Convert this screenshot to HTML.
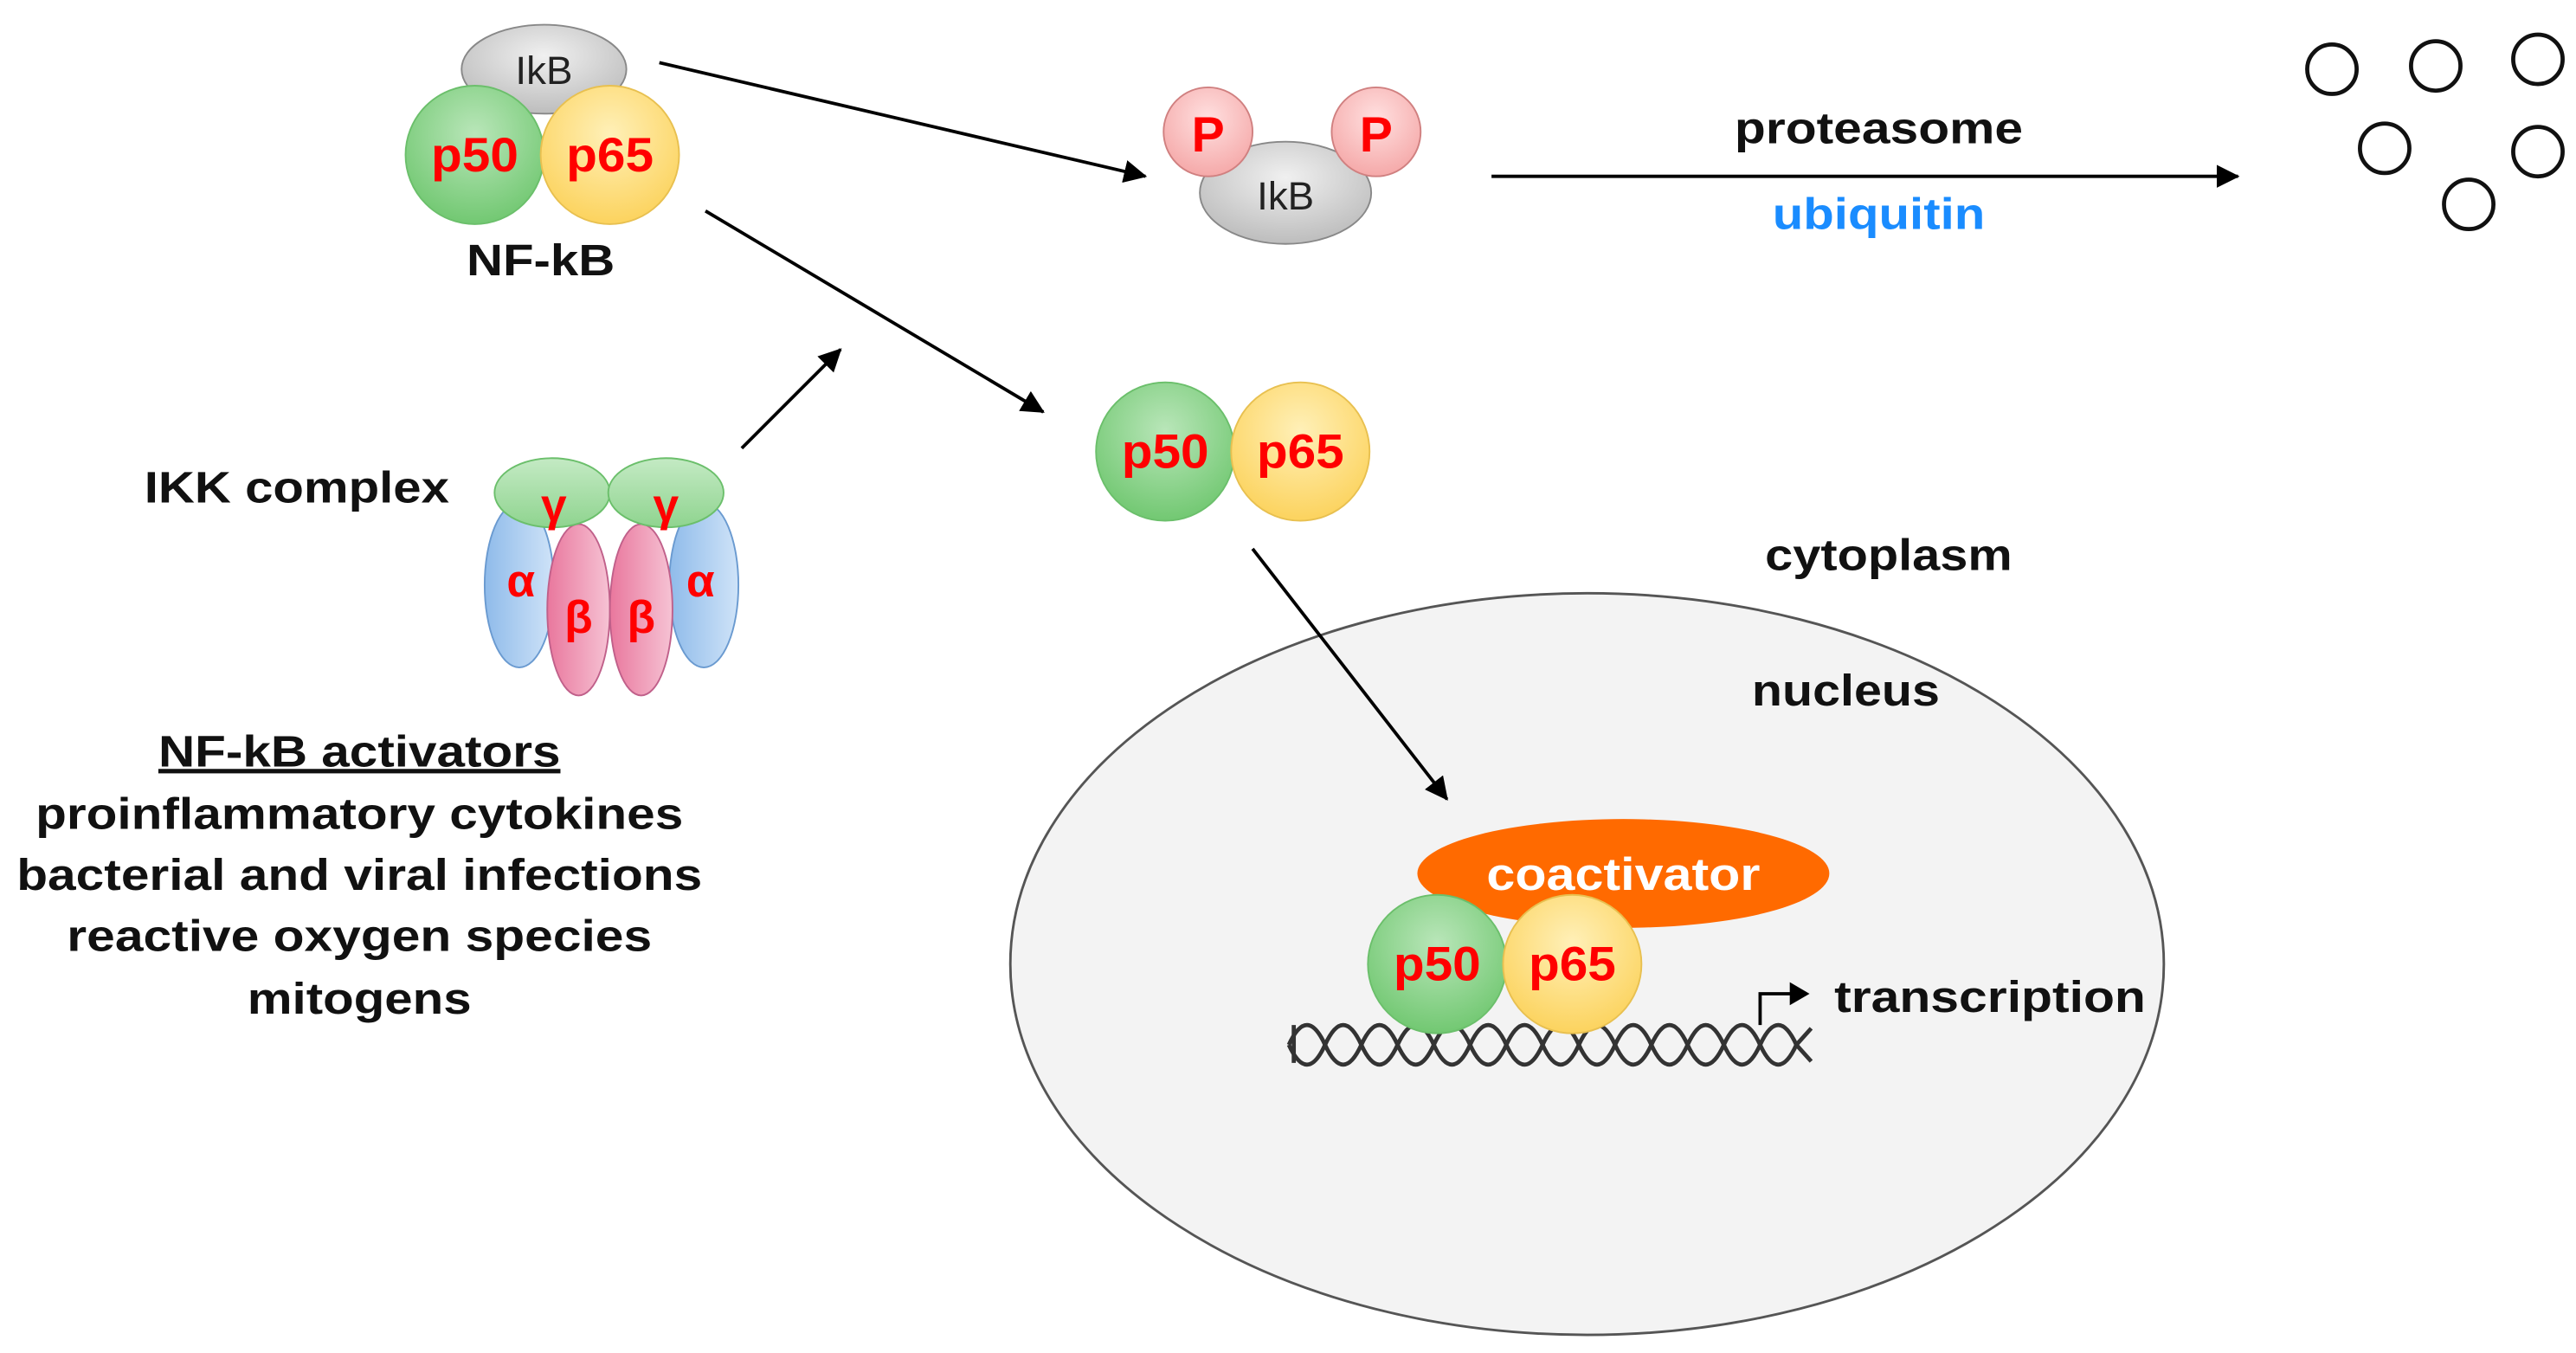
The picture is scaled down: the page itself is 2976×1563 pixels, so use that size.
<!DOCTYPE html>
<html><head><style>
html,body{margin:0;padding:0;background:#fff;}
svg{display:block;}
text{font-family:"Liberation Sans",Arial,sans-serif;font-weight:bold;}
</style></head><body>
<svg width="2976" height="1563" viewBox="0 0 1563 821" xmlns="http://www.w3.org/2000/svg">
<defs>
<radialGradient id="gr" cx="50%" cy="35%" r="65%"><stop offset="0" stop-color="#b9e6b9"/><stop offset="1" stop-color="#72c872"/></radialGradient>
<radialGradient id="ye" cx="50%" cy="35%" r="65%"><stop offset="0" stop-color="#fff0b8"/><stop offset="1" stop-color="#fcd35e"/></radialGradient>
<radialGradient id="gy" cx="50%" cy="35%" r="65%"><stop offset="0" stop-color="#f0f0f0"/><stop offset="1" stop-color="#bdbdbd"/></radialGradient>
<radialGradient id="pk" cx="50%" cy="35%" r="65%"><stop offset="0" stop-color="#ffe0e0"/><stop offset="1" stop-color="#f5a9a9"/></radialGradient>
<linearGradient id="bl" x1="0" x2="1"><stop offset="0" stop-color="#8fbbea"/><stop offset="1" stop-color="#cfe3f8"/></linearGradient>
<linearGradient id="be" x1="0" x2="1"><stop offset="0" stop-color="#e9779d"/><stop offset="1" stop-color="#f6c3d4"/></linearGradient>
<linearGradient id="ga" x1="0" y1="0" x2="0" y2="1"><stop offset="0" stop-color="#c4eac4"/><stop offset="1" stop-color="#8fd48f"/></linearGradient>
<marker id="ah2" markerWidth="14" markerHeight="14" refX="13" refY="7" orient="auto" markerUnits="userSpaceOnUse"><path d="M0,0 L14,7 L0,14 Z" fill="#000"/></marker>
</defs>

<ellipse cx="963" cy="585" rx="350" ry="225" fill="#f3f3f3" stroke="#555" stroke-width="1.5"/>

<g stroke="#000" stroke-width="2" fill="none">
<line x1="400" y1="38" x2="695" y2="107" marker-end="url(#ah2)"/>
<line x1="905" y1="107" x2="1358" y2="107" marker-end="url(#ah2)"/>
<line x1="428" y1="128" x2="633" y2="250" marker-end="url(#ah2)"/>
<line x1="450" y1="272" x2="510" y2="212" marker-end="url(#ah2)"/>
<line x1="760" y1="333" x2="878" y2="485" marker-end="url(#ah2)"/>
</g>

<ellipse cx="330" cy="42" rx="50" ry="27" fill="url(#gy)" stroke="#888" stroke-width="1"/>
<text x="330" y="51" font-size="24" text-anchor="middle" fill="#222" style="font-weight:normal">IkB</text>
<circle cx="288" cy="94" r="42" fill="url(#gr)" stroke="#6bbf6b"/>
<circle cx="370" cy="94" r="42" fill="url(#ye)" stroke="#e8c050"/>
<text x="288" y="104" font-size="29" text-anchor="middle" fill="#f00" textLength="53" lengthAdjust="spacingAndGlyphs">p50</text>
<text x="370" y="104" font-size="29" text-anchor="middle" fill="#f00" textLength="53" lengthAdjust="spacingAndGlyphs">p65</text>
<text x="328" y="167" font-size="27" text-anchor="middle" fill="#111" textLength="90" lengthAdjust="spacingAndGlyphs">NF-kB</text>

<ellipse cx="780" cy="117" rx="52" ry="31" fill="url(#gy)" stroke="#888"/>
<circle cx="733" cy="80" r="27" fill="url(#pk)" stroke="#d08080"/>
<circle cx="835" cy="80" r="27" fill="url(#pk)" stroke="#d08080"/>
<text x="733" y="92" font-size="30" text-anchor="middle" fill="#f00">P</text>
<text x="835" y="92" font-size="30" text-anchor="middle" fill="#f00">P</text>
<text x="780" y="127" font-size="24" text-anchor="middle" fill="#222" style="font-weight:normal">IkB</text>

<text x="1140" y="87" font-size="27" text-anchor="middle" fill="#111" textLength="175" lengthAdjust="spacingAndGlyphs">proteasome</text>
<text x="1140" y="139" font-size="27" text-anchor="middle" fill="#1a8cff" textLength="129" lengthAdjust="spacingAndGlyphs">ubiquitin</text>

<g fill="#fff" stroke="#111" stroke-width="2.5">
<circle cx="1415" cy="42" r="15"/><circle cx="1478" cy="40" r="15"/><circle cx="1540" cy="36" r="15"/>
<circle cx="1447" cy="90" r="15"/><circle cx="1540" cy="92" r="15"/><circle cx="1498" cy="124" r="15"/>
</g>

<circle cx="707" cy="274" r="42" fill="url(#gr)" stroke="#6bbf6b"/>
<circle cx="789" cy="274" r="42" fill="url(#ye)" stroke="#e8c050"/>
<text x="707" y="284" font-size="29" text-anchor="middle" fill="#f00" textLength="53" lengthAdjust="spacingAndGlyphs">p50</text>
<text x="789" y="284" font-size="29" text-anchor="middle" fill="#f00" textLength="53" lengthAdjust="spacingAndGlyphs">p65</text>

<text x="180" y="305" font-size="27" text-anchor="middle" fill="#111" textLength="185" lengthAdjust="spacingAndGlyphs">IKK complex</text>
<ellipse cx="315" cy="355" rx="21" ry="50" fill="url(#bl)" stroke="#6a9ad0"/>
<ellipse cx="427" cy="355" rx="21" ry="50" fill="url(#bl)" stroke="#6a9ad0"/>
<ellipse cx="351" cy="370" rx="19" ry="52" fill="url(#be)" stroke="#c0608a"/>
<ellipse cx="389" cy="370" rx="19" ry="52" fill="url(#be)" stroke="#c0608a"/>
<ellipse cx="335" cy="299" rx="35" ry="21" fill="url(#ga)" stroke="#6bbf6b"/>
<ellipse cx="404" cy="299" rx="35" ry="21" fill="url(#ga)" stroke="#6bbf6b"/>
<g font-size="28" fill="#f00" text-anchor="middle">
<text x="336" y="316">γ</text><text x="404" y="316">γ</text>
<text x="316" y="362">α</text><text x="425" y="362">α</text>
<text x="351" y="384">β</text><text x="389" y="384">β</text>
</g>

<g font-size="27" text-anchor="middle" fill="#111">
<text x="218" y="465" text-decoration="underline" textLength="244" lengthAdjust="spacingAndGlyphs">NF-kB activators</text>
<text x="218" y="503" textLength="393" lengthAdjust="spacingAndGlyphs">proinflammatory cytokines</text>
<text x="218" y="540" textLength="416" lengthAdjust="spacingAndGlyphs">bacterial and viral infections</text>
<text x="218" y="577" textLength="355" lengthAdjust="spacingAndGlyphs">reactive oxygen species</text>
<text x="218" y="615" textLength="136" lengthAdjust="spacingAndGlyphs">mitogens</text>
</g>

<text x="1146" y="346" font-size="27" text-anchor="middle" fill="#111" textLength="150" lengthAdjust="spacingAndGlyphs">cytoplasm</text>
<text x="1120" y="428" font-size="27" text-anchor="middle" fill="#111" textLength="114" lengthAdjust="spacingAndGlyphs">nucleus</text>

<g stroke="#333" stroke-width="2.5" fill="none">
<path d="M782,634 Q793,658 804,634 T826,634 T848,634 T870,634 T892,634 T914,634 T936,634 T958,634 T980,634 T1002,634 T1024,634 T1046,634 T1068,634 T1090,634 L1099,644"/>
<path d="M782,634 Q793,610 804,634 T826,634 T848,634 T870,634 T892,634 T914,634 T936,634 T958,634 T980,634 T1002,634 T1024,634 T1046,634 T1068,634 T1090,634 L1099,624"/>
<line x1="785" y1="622" x2="785" y2="645"/>
</g>

<ellipse cx="985" cy="530" rx="125" ry="33" fill="#ff6a00"/>
<text x="985" y="540" font-size="28" text-anchor="middle" fill="#fff" textLength="166" lengthAdjust="spacingAndGlyphs">coactivator</text>
<circle cx="872" cy="585" r="42" fill="url(#gr)" stroke="#6bbf6b"/>
<circle cx="954" cy="585" r="42" fill="url(#ye)" stroke="#e8c050"/>
<text x="872" y="595" font-size="29" text-anchor="middle" fill="#f00" textLength="53" lengthAdjust="spacingAndGlyphs">p50</text>
<text x="954" y="595" font-size="29" text-anchor="middle" fill="#f00" textLength="53" lengthAdjust="spacingAndGlyphs">p65</text>

<path d="M1068,622 L1068,603 L1088,603" stroke="#000" stroke-width="2" fill="none"/>
<path d="M1086,596 L1098,603 L1086,610 Z" fill="#000"/>
<text x="1113" y="614" font-size="27" fill="#111" textLength="189" lengthAdjust="spacingAndGlyphs">transcription</text>
</svg>
</body></html>
